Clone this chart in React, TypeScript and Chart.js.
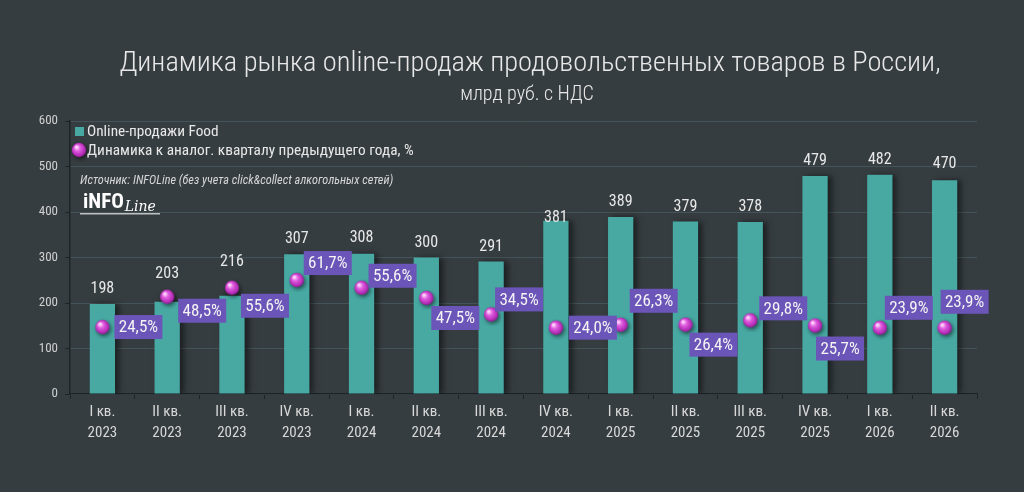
import React, { useEffect, useRef } from "react";
import { Chart, registerables } from "chart.js";

Chart.register(...registerables);

const titleLine = "Динамика рынка online-продаж продовольственных товаров в России,";
const subtitleLine = "млрд руб. с НДС";
const seriesBarName = "Online-продажи Food";
const seriesDotName = "Динамика к аналог. кварталу предыдущего года, %";
const sourceNote = "Источник: INFOLine (без учета click&collect алкогольных сетей)";

const quarterLabels = ["I кв.", "II кв.", "III кв.", "IV кв.", "I кв.", "II кв.", "III кв.", "IV кв.", "I кв.", "II кв.", "III кв.", "IV кв.", "I кв.", "II кв."];
const yearLabels = ["2023", "2023", "2023", "2023", "2024", "2024", "2024", "2024", "2025", "2025", "2025", "2025", "2026", "2026"];
const salesValues = [198, 203, 216, 307, 308, 300, 291, 381, 389, 379, 378, 479, 482, 470];
const growthValues = [24.5, 48.5, 55.6, 61.7, 55.6, 47.5, 34.5, 24.0, 26.3, 26.4, 29.8, 25.7, 23.9, 23.9];
const yTicks = [0, 100, 200, 300, 400, 500, 600];

// label box placement relative to the dot: [dx to box left, dy to box centre]
const boxOffsets: [number, number][] = [
  [12, 0], [11, 14], [9, 18], [7, -17], [7, -12], [5, 20], [4, -15],
  [13, 0], [9, -24], [4, 20], [9, -12], [1, 23], [5, -20], [-4, -26],
];
// how far each value label sits above its bar top
const valueLabelLift = [15, 28, 34, 15, 16, 15, 15, 3, 15, 15, 15, 15, 15, 16];

const BG = "#363d40";
const BAR = "#48a9a3";
const BOX = "#6b55b9";
const TEXT = "#e8e8e8";
const FONT = "'Roboto Condensed','Liberation Sans Narrow','DejaVu Sans Condensed',Roboto,sans-serif";

function makeSphere(): HTMLCanvasElement {
  const c = document.createElement("canvas");
  c.width = 24;
  c.height = 24;
  const g = c.getContext("2d")!;
  g.save();
  g.shadowColor = "rgba(0,0,0,0.55)";
  g.shadowBlur = 4;
  g.shadowOffsetX = 1.5;
  g.shadowOffsetY = 2;
  const grad = g.createRadialGradient(9.5, 9, 1, 12, 12, 8);
  grad.addColorStop(0, "#ffd0fb");
  grad.addColorStop(0.3, "#e05ee0");
  grad.addColorStop(0.75, "#b42cb6");
  grad.addColorStop(1, "#7a1680");
  g.fillStyle = grad;
  g.beginPath();
  g.arc(12, 12, 7.2, 0, Math.PI * 2);
  g.fill();
  g.restore();
  return c;
}

export default function App() {
  const ref = useRef<HTMLCanvasElement | null>(null);

  useEffect(() => {
    document.body.style.margin = "0";
    document.body.style.background = BG;
    const canvas = ref.current;
    if (!canvas) return;
    const sphere = makeSphere();

    const barShadow = {
      id: "barShadow",
      beforeDatasetDraw(chart: any, args: any) {
        if (args.index === 0) {
          const ctx = chart.ctx;
          ctx.save();
          ctx.shadowColor = "rgba(0,0,0,0.5)";
          ctx.shadowBlur = 6;
          ctx.shadowOffsetX = 4;
          ctx.shadowOffsetY = 0;
        }
      },
      afterDatasetDraw(chart: any, args: any) {
        if (args.index === 0) chart.ctx.restore();
      },
    };

    const decorations = {
      id: "decorations",
      beforeDraw(chart: any) {
        const ctx = chart.ctx;
        ctx.save();
        ctx.fillStyle = BG;
        ctx.fillRect(0, 0, chart.width, chart.height);
        ctx.restore();
      },
      afterDraw(chart: any) {
        const ctx = chart.ctx;
        const area = chart.chartArea;
        ctx.save();
        // title
        ctx.fillStyle = TEXT;
        ctx.textAlign = "center";
        ctx.textBaseline = "middle";
        ctx.font = `300 28.4px ${FONT}`;
        ctx.fillText(titleLine, 530, 64);
        ctx.font = `300 20px ${FONT}`;
        ctx.fillText(subtitleLine, 527, 95);

        // legend
        const lx = area.left + 5;
        ctx.textAlign = "left";
        ctx.fillStyle = BAR;
        ctx.fillRect(lx, 127, 9, 9);
        ctx.fillStyle = TEXT;
        ctx.font = `15.3px ${FONT}`;
        ctx.fillText(seriesBarName, lx + 12, 132);
        ctx.drawImage(sphere, lx - 8, 138, 24, 24);
        ctx.fillStyle = TEXT;
        ctx.fillText(seriesDotName, lx + 12, 151);

        // source
        ctx.font = `italic 12.3px ${FONT}`;
        ctx.fillStyle = "#d6d6d6";
        ctx.fillText(sourceNote, lx + 5, 181);

        // logo
        ctx.font = `bold 21px ${FONT}`;
        ctx.fillStyle = "#ffffff";
        ctx.fillText("iNFO", lx + 8, 203);
        const w = ctx.measureText("iNFO").width;
        ctx.font = `italic 14px 'DejaVu Serif',serif`;
        ctx.fillText("Line", lx + 9 + w, 207);
        ctx.fillStyle = "#bfbfbf";
        ctx.fillRect(lx + 5, 213, 80, 1.5);
        ctx.restore();
      },
      afterDatasetsDraw(chart: any) {
        const ctx = chart.ctx;
        const barMeta = chart.getDatasetMeta(0);
        const dotMeta = chart.getDatasetMeta(1);
        ctx.save();
        ctx.textBaseline = "middle";
        ctx.textAlign = "center";
        ctx.font = `16px ${FONT}`;
        ctx.fillStyle = TEXT;
        barMeta.data.forEach((bar: any, i: number) => {
          ctx.fillText(String(salesValues[i]), bar.x, bar.y - valueLabelLift[i]);
        });
        dotMeta.data.forEach((pt: any, i: number) => {
          const [dx, dy] = boxOffsets[i];
          const bw = 48;
          const bh = 24;
          const left = pt.x + dx;
          const cy = pt.y + dy;
          ctx.fillStyle = BOX;
          ctx.fillRect(left, cy - bh / 2, bw, bh);
          ctx.fillStyle = "#f4f4f4";
          ctx.font = `17px ${FONT}`;
          ctx.fillText(growthValues[i].toFixed(1).replace(".", ",") + "%", left + bw / 2, cy + 1);
        });
        ctx.restore();
      },
    };

    const chart = new Chart(canvas, {
      type: "bar",
      data: {
        labels: quarterLabels.map((q, i) => [q, yearLabels[i]]),
        datasets: [
          {
            type: "bar",
            label: seriesBarName,
            data: salesValues,
            backgroundColor: BAR,
            borderWidth: 0,
            barPercentage: 0.78,
            categoryPercentage: 0.5,
            yAxisID: "y",
            order: 1,
          },
          {
            type: "line",
            label: seriesDotName,
            data: growthValues,
            showLine: false,
            pointStyle: sphere as any,
            pointRadius: 8,
            pointHoverRadius: 8,
            yAxisID: "y2",
            order: 0,
          } as any,
        ],
      },
      options: {
        animation: false,
        responsive: true,
        maintainAspectRatio: false,
        layout: { padding: { top: 121, right: 47, left: 0, bottom: 0 } },
        plugins: {
          legend: { display: false },
          title: { display: false },
          tooltip: { enabled: false },
        },
        scales: {
          x: {
            offset: true,
            grid: {
              display: true,
              drawOnChartArea: false,
              drawTicks: true,
              tickLength: 5,
              color: "#1e2426",
              offset: true,
            },
            border: { color: "#1e2426", width: 1.5 },
            ticks: {
              color: "#d8d8d8",
              font: { size: 15, family: FONT, lineHeight: 1.45 },
              padding: 2,
              maxRotation: 0,
              autoSkip: false,
            },
            afterFit(scale: any) {
              scale.height = 98;
            },
          },
          y: {
            min: 0,
            max: 600,
            afterBuildTicks(scale: any) {
              scale.ticks = yTicks.map((v) => ({ value: v }));
            },
            grid: {
              color: "#45535a",
              lineWidth: 1,
              tickLength: 5,
              tickColor: "#1e2426",
            } as any,
            border: { color: "#1e2426", width: 1.5 },
            ticks: {
              color: "#d0d0d0",
              font: { size: 13, family: FONT },
              padding: 7,
            },
            afterFit(scale: any) {
              scale.width = 70;
            },
          },
          y2: {
            display: false,
            min: -28.5,
            max: 187.6,
          },
        },
      },
      plugins: [barShadow, decorations],
    });

    return () => chart.destroy();
  }, []);

  return (
    <div style={{ position: "relative", width: 1024, height: 492, background: BG }}>
      <canvas ref={ref} />
    </div>
  );
}
